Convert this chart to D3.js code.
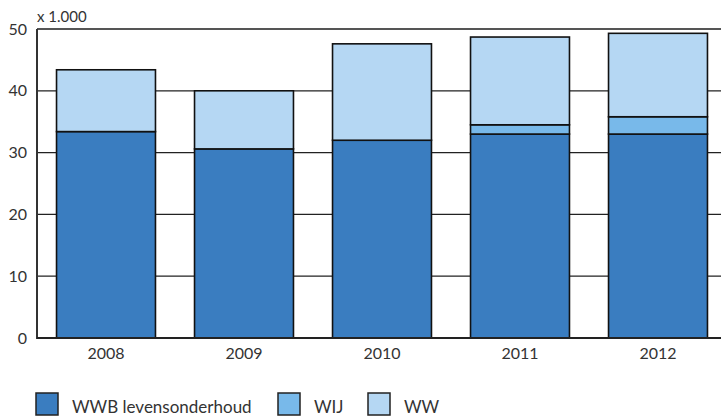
<!DOCTYPE html>
<html><head><meta charset="utf-8">
<script src="https://cdn.jsdelivr.net/npm/d3@7"></script>
<style>body{margin:0;background:#fff;} text{font-family:Lato,"Noto Sans",sans-serif;fill:#333;}</style>
</head><body>
<svg id="c" width="721" height="416"></svg>
<script>
const years = ["2008","2009","2010","2011","2012"];
const wwb = [33.4, 30.6, 32.0, 33.0, 33.0];
const wij = [0, 0, 0, 1.5, 2.8];
const ww = [10.0, 9.4, 15.6, 14.2, 13.5];
const seriesNames = ["WWB levensonderhoud","WIJ","WW"];
const colors = ["#3a7dc0","#78b9ea","#b5d7f3"];
const yTicks = [0,10,20,30,40,50];

const svg = d3.select("#c");
const x = d3.scaleBand().domain(years).range([37,727]).paddingInner(0.283).paddingOuter(0.1415);
const y = d3.scaleLinear().domain([0,50]).range([338,29]);

const data = years.map((yr,i)=>({year:yr, WWB:wwb[i], WIJ:wij[i], WW:ww[i]}));
const stack = d3.stack().keys(["WWB","WIJ","WW"])(data);

// gridlines
svg.append("g").selectAll("line").data(yTicks.filter(t=>t>0 && t<50)).join("line")
  .attr("x1",37).attr("x2",721).attr("y1",d=>y(d)).attr("y2",d=>y(d))
  .attr("stroke","#222").attr("stroke-width",1.2);
svg.append("line").attr("x1",37).attr("x2",721).attr("y1",y(50)).attr("y2",y(50))
  .attr("stroke","#555").attr("stroke-width",2);

// bars
stack.forEach((s,si)=>{
  svg.append("g").selectAll("rect").data(s.filter(d=>d[1]-d[0]>0)).join("rect")
    .attr("x",d=>x(d.data.year)).attr("width",x.bandwidth())
    .attr("y",d=>y(d[1])).attr("height",d=>y(d[0])-y(d[1]))
    .attr("fill",colors[si]).attr("stroke","#111").attr("stroke-width",1.6);
});

// axes lines
svg.append("line").attr("x1",37).attr("x2",37).attr("y1",y(50)).attr("y2",y(0)+1)
  .attr("stroke","#333").attr("stroke-width",2);
svg.append("line").attr("x1",37).attr("x2",721).attr("y1",y(0)).attr("y2",y(0))
  .attr("stroke","#222").attr("stroke-width",2);

// y tick labels
const yAxis = d3.axisLeft(y).tickValues(yTicks).tickSize(0).tickPadding(10);
const gy = svg.append("g").attr("transform","translate(37,0)").call(yAxis);
gy.select(".domain").remove();
gy.selectAll("text").attr("font-size",16).attr("fill","#333").style("font-family","Lato,'Noto Sans',sans-serif");

// x tick labels
const xAxis = d3.axisBottom(x).tickSize(0).tickPadding(10);
const gx = svg.append("g").attr("transform","translate(0,338)").call(xAxis);
gx.select(".domain").remove();
gx.selectAll("text").attr("font-size",16).attr("fill","#333").style("font-family","Lato,'Noto Sans',sans-serif");

svg.append("text").attr("x",37).attr("y",22).attr("font-size",15).text("x 1.000");

// legend
const legX = [36, 278, 368];
seriesNames.forEach((n,i)=>{
  svg.append("rect").attr("x",legX[i]).attr("y",393).attr("width",22).attr("height",22)
    .attr("fill",colors[i]).attr("stroke","#222").attr("stroke-width",1.5);
  svg.append("text").attr("x",legX[i]+36).attr("y",413).attr("font-size",17).text(n);
});
</script>
</body></html>
